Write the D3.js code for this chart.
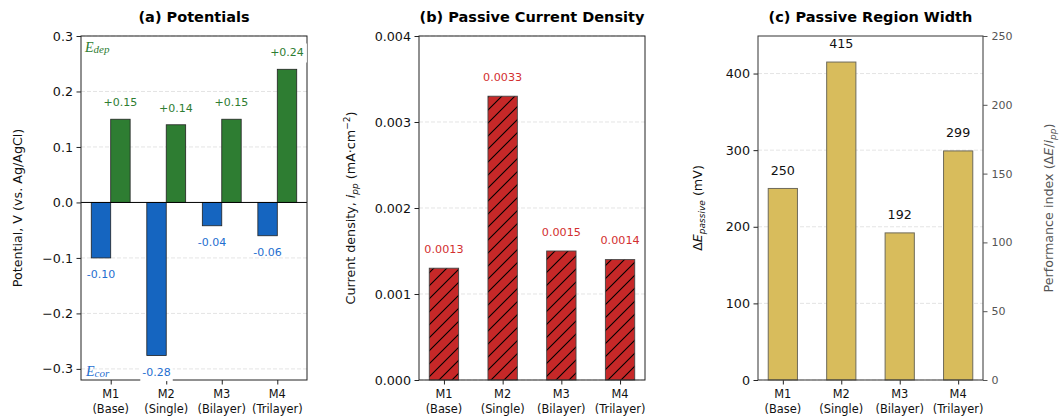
<!DOCTYPE html>
<html><head><meta charset="utf-8">
<script src="https://cdn.jsdelivr.net/npm/d3@7"></script>
<style>body{margin:0;background:#fff}svg{display:block;font-family:"DejaVu Sans",sans-serif}</style>
</head><body><svg id="c" width="1059" height="420"></svg>
<script>
const catCodes = ["M1","M2","M3","M4"];
const catNames = ["(Base)","(Single)","(Bilayer)","(Trilayer)"];
const eCorr = [-0.100, -0.276, -0.042, -0.060];
const eDep = [0.15, 0.14, 0.15, 0.24];
const iPP = [0.0013, 0.0033, 0.0015, 0.0014];
const dEPassive = [250, 415, 192, 299];
const ticksA = [-0.3,-0.2,-0.1,0.0,0.1,0.2,0.3];
const ticksB = [0.000,0.001,0.002,0.003,0.004];
const ticksC = [0,100,200,300,400];
const ticksCR = [0,50,100,150,200,250];

const svg = d3.select("#c");
const TOP = 36, BOT = 380;
const BLUE = "#1565c0", GREEN = "#2e7d32", RED = "#c62828", GOLD = "#d8bc5c";

// hatch
const defs = svg.append("defs");
const pat = defs.append("pattern").attr("id","hatch").attr("patternUnits","userSpaceOnUse")
  .attr("width",13).attr("height",13);
pat.append("path").attr("d","M0,13 L13,0 M-3,3 L3,-3 M10,16 L16,10")
  .attr("stroke","#000").attr("stroke-width",1.1);

function panel(cfg){
  const g = svg.append("g");
  const x = d3.scaleLinear().domain(cfg.xd).range([cfg.L, cfg.R]);
  const y = d3.scaleLinear().domain(cfg.yd).range([BOT, TOP]);
  g.selectAll(".grid").data(cfg.ticks.filter(t=>t!==0 || !cfg.zeroLine)).enter().append("line")
    .attr("x1",cfg.L).attr("x2",cfg.R).attr("y1",d=>y(d)).attr("y2",d=>y(d))
    .attr("stroke","#d8d8d8").attr("stroke-width",0.7).attr("stroke-dasharray","4,2");
  const ax = d3.axisLeft(y).tickValues(cfg.ticks).tickFormat(cfg.fmt).tickSize(4.5).tickPadding(3.5);
  const ag = g.append("g").attr("transform",`translate(${cfg.L},0)`).call(ax);
  ag.select(".domain").remove();
  ag.selectAll("text").attr("font-size","12.7px").attr("fill","#111").attr("font-family","DejaVu Sans");
  ag.selectAll("line").attr("stroke","#222");
  const xa = d3.axisBottom(x).tickValues([0,1,2,3]).tickFormat("").tickSize(4.5);
  const xg = g.append("g").attr("transform",`translate(0,${BOT})`).call(xa);
  xg.select(".domain").remove();
  xg.selectAll("line").attr("stroke","#222");
  [0,1,2,3].forEach(i=>{
    const t = g.append("text").attr("x",x(i)).attr("text-anchor","middle").attr("font-size","11.4px").attr("fill","#111");
    t.append("tspan").attr("x",x(i)).attr("y",398).text(catCodes[i]);
    t.append("tspan").attr("x",x(i)).attr("y",413).text(catNames[i]);
  });
  g.append("text").attr("x",(cfg.L+cfg.R)/2).attr("y",22).attr("text-anchor","middle")
    .attr("font-weight","bold").attr("font-size","14.5px").attr("fill","#000").text(cfg.title);
  return {g,x,y};
}

function boxedText(g, t, pad){
  const b = t.node().getBBox();
  g.append("rect").attr("x",b.x-pad).attr("y",b.y-pad).attr("width",b.width+2*pad).attr("height",b.height+2*pad).attr("fill","#fff");
  t.raise();
}

// ---------- Panel (a)
{
  const {g,x,y} = panel({L:81,R:307,xd:[-0.535,3.535],yd:[-0.32,0.30],ticks:ticksA,
    fmt:d=>d3.format(".1f")(d).replace("-","\u2212"),title:"(a) Potentials",zeroLine:true});
  const w = 0.35;
  g.selectAll(".bc").data(eCorr).enter().append("rect")
    .attr("x",(d,i)=>x(i-w))
    .attr("width",(d,i)=>x(i)-x(i-w))
    .attr("y",y(0)).attr("height",d=>y(d)-y(0))
    .attr("fill",BLUE).attr("stroke","#222").attr("stroke-width",0.8);
  g.selectAll(".bd").data(eDep).enter().append("rect")
    .attr("x",(d,i)=>x(i))
    .attr("width",(d,i)=>x(i+w)-x(i))
    .attr("y",d=>y(d)).attr("height",d=>y(0)-y(d))
    .attr("fill",GREEN).attr("stroke","#222").attr("stroke-width",0.8);
  g.append("line").attr("x1",81).attr("x2",307).attr("y1",y(0)).attr("y2",y(0)).attr("stroke","#000").attr("stroke-width",1);
  g.append("rect").attr("x",81).attr("y",TOP).attr("width",226).attr("height",BOT-TOP)
    .attr("fill","none").attr("stroke","#222").attr("stroke-width",1);
  eCorr.forEach((d,i)=>{
    const t = g.append("text").attr("x",x(i-w/2)).attr("y",y(d-0.03)).attr("dy","0.35em").attr("text-anchor","middle")
      .attr("font-size","11px").attr("fill","#1f6fd0").text(d.toFixed(2));
    if (i===1) boxedText(g,t,2);
  });
  eDep.forEach((d,i)=>{
    const t = g.append("text").attr("x",x(i+w/2)).attr("y",y(d+0.03)).attr("dy","0.35em").attr("text-anchor","middle")
      .attr("font-size","11px").attr("fill",GREEN).text("+"+d.toFixed(2));
    if (i===3) boxedText(g,t,3);
  });
  const e1 = g.append("text").attr("x",85).attr("y",52).attr("font-family","Liberation Serif").attr("font-style","italic").attr("fill",GREEN);
  e1.append("tspan").attr("font-size","14px").text("E");
  e1.append("tspan").attr("font-size","11px").attr("dy",1).text("dep");
  const e2 = g.append("text").attr("x",86).attr("y",376).attr("font-family","Liberation Serif").attr("font-style","italic").attr("fill","#1f6fd0");
  e2.append("tspan").attr("font-size","14px").text("E");
  e2.append("tspan").attr("font-size","11px").attr("dy",1).text("cor");
  g.append("text").attr("transform",`translate(22,${(TOP+BOT)/2}) rotate(-90)`).attr("text-anchor","middle")
    .attr("font-size","12.7px").attr("fill","#111").text("Potential, V (vs. Ag/AgCl)");
}

// ---------- Panel (b)
{
  const {g,x,y} = panel({L:419,R:645,xd:[-0.425,3.425],yd:[0,0.004],ticks:ticksB,
    fmt:d3.format(".3f"),title:"(b) Passive Current Density"});
  const w = 0.25;
  g.selectAll(".bb").data(iPP).enter().append("rect")
    .attr("x",(d,i)=>x(i-w)).attr("width",(d,i)=>x(i+w)-x(i-w))
    .attr("y",d=>y(d)).attr("height",d=>y(0)-y(d))
    .attr("fill",RED).attr("stroke","none");
  g.selectAll(".bh").data(iPP).enter().append("rect")
    .attr("x",(d,i)=>x(i-w)).attr("width",(d,i)=>x(i+w)-x(i-w))
    .attr("y",d=>y(d)).attr("height",d=>y(0)-y(d))
    .attr("fill","url(#hatch)").attr("stroke","#444").attr("stroke-width",0.9);
  g.append("rect").attr("x",419).attr("y",TOP).attr("width",226).attr("height",BOT-TOP)
    .attr("fill","none").attr("stroke","#222").attr("stroke-width",1);
  iPP.forEach((d,i)=>{
    g.append("text").attr("x",x(i)).attr("y",y(d+0.000225)).attr("dy","0.35em").attr("text-anchor","middle")
      .attr("font-size","11.2px").attr("fill","#d32f2f").text(d.toFixed(4));
  });
  const t = g.append("text").attr("transform",`translate(355,${(TOP+BOT)/2}) rotate(-90)`).attr("text-anchor","middle")
    .attr("font-size","12.7px").attr("fill","#111");
  t.append("tspan").text("Current density, ");
  t.append("tspan").attr("font-style","italic").text("i");
  t.append("tspan").attr("font-style","italic").attr("font-size","9px").attr("dy",3).text("pp");
  t.append("tspan").attr("dy",-3).text(" (mA\u00b7cm");
  t.append("tspan").attr("font-size","9px").attr("dy",-5).text("\u22122");
  t.append("tspan").attr("dy",5).text(")");
}

// ---------- Panel (c)
{
  const {g,x,y} = panel({L:758,R:983,xd:[-0.425,3.425],yd:[0,449],ticks:ticksC,
    fmt:d3.format("d"),title:"(c) Passive Region Width"});
  const w = 0.25;
  g.selectAll(".bg").data(dEPassive).enter().append("rect")
    .attr("x",(d,i)=>x(i-w)).attr("width",(d,i)=>x(i+w)-x(i-w))
    .attr("y",d=>y(d)).attr("height",d=>y(0)-y(d))
    .attr("fill",GOLD).attr("stroke","#6e6a5a").attr("stroke-width",1);
  g.append("rect").attr("x",758).attr("y",TOP).attr("width",225).attr("height",BOT-TOP)
    .attr("fill","none").attr("stroke","#333").attr("stroke-width",1);
  dEPassive.forEach((d,i)=>{
    g.append("text").attr("x",x(i)).attr("y",y(d+24)).attr("dy","0.35em").attr("text-anchor","middle")
      .attr("font-size","12.7px").attr("fill","#111").text(d);
  });
  const yr = d3.scaleLinear().domain([0,250]).range([BOT,TOP]);
  const rg = g.append("g").attr("transform","translate(983,0)")
    .call(d3.axisRight(yr).tickValues(ticksCR).tickSize(4.5).tickPadding(4));
  rg.select(".domain").remove();
  rg.selectAll("line").attr("stroke","#555");
  rg.selectAll("text").attr("font-size","11px").attr("fill","#555").attr("font-family","DejaVu Sans");
  const t = g.append("text").attr("transform",`translate(702,${(TOP+BOT)/2}) rotate(-90)`).attr("text-anchor","middle")
    .attr("font-size","12.7px").attr("fill","#111");
  t.append("tspan").text("\u0394");
  t.append("tspan").attr("font-style","italic").text("E");
  t.append("tspan").attr("font-style","italic").attr("font-size","9px").attr("dy",3).text("passive");
  t.append("tspan").attr("dy",-3).text(" (mV)");
  const t2 = g.append("text").attr("transform",`translate(1053,${(TOP+BOT)/2}) rotate(-90)`).attr("text-anchor","middle")
    .attr("font-size","12.7px").attr("fill","#555");
  t2.append("tspan").text("Performance index (\u0394");
  t2.append("tspan").attr("font-style","italic").text("E");
  t2.append("tspan").text("/");
  t2.append("tspan").attr("font-style","italic").text("i");
  t2.append("tspan").attr("font-style","italic").attr("font-size","9px").attr("dy",3).text("pp");
  t2.append("tspan").attr("dy",-3).text(")");
}
</script></body></html>
